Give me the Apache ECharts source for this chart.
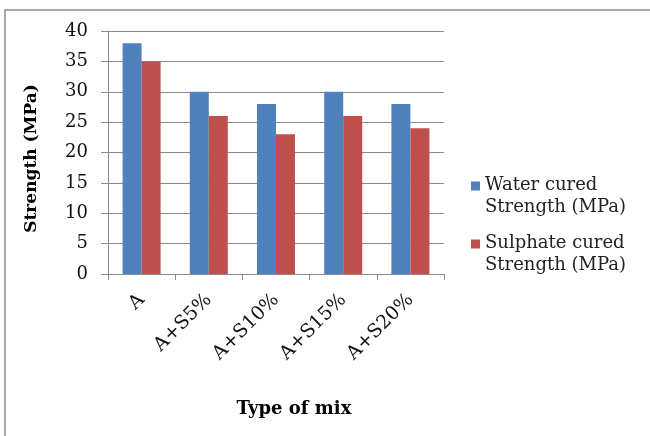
<!DOCTYPE html>
<html>
<head>
<meta charset="utf-8">
<script src="https://cdn.jsdelivr.net/npm/echarts@6/dist/echarts.min.js"></script>
<style>
  html, body { margin: 0; padding: 0; background: #fff; }
  #chart { width: 650px; height: 436px; }
</style>
</head>
<body>
<div id="chart"></div>
<script>
// Compressive strength by mix type
const mixTypes = ['A', 'A+S5%', 'A+S10%', 'A+S15%', 'A+S20%'];
const waterCured = [38, 30, 28, 30, 28];
const sulphateCured = [35, 26, 23, 26, 24];
const seriesNames = ['Water cured\nStrength (MPa)', 'Sulphate cured\nStrength (MPa)'];
const yTicks = { min: 0, max: 40, step: 5 };

const serif = '"DejaVu Serif", "Liberation Serif", serif';
const gridGray = '#8a8a8a';

const chart = echarts.init(document.getElementById('chart'), null, { renderer: 'canvas' });

// square at the top, tiny dot at the bottom so the icon lines up with the first text line
const legendIcon = 'path://M0,0h10v10h-10zM4.99,31.99h0.01v0.01h-0.01z';

chart.setOption({
  animation: false,
  backgroundColor: '#fff',
  color: ['#4F81BD', '#C0504D'],
  graphic: [{
    type: 'rect',
    shape: { x: 5, y: 10, width: 700, height: 500 },
    style: { fill: 'none', stroke: '#8c8c8c', lineWidth: 1.5 },
    silent: true,
    z: -1
  }],
  grid: { left: 108, right: 206, top: 31, bottom: 162 },
  legend: {
    orient: 'vertical',
    left: 466,
    top: 169,
    itemWidth: 9,
    itemHeight: 29,
    itemGap: 14,
    itemStyle: { borderWidth: 0 },
    icon: legendIcon,
    textStyle: { fontFamily: serif, fontSize: 18, color: '#222', lineHeight: 22 },
    itemTextGap: 9,
    data: seriesNames
  },
  xAxis: {
    type: 'category',
    data: mixTypes,
    name: 'Type of mix',
    nameLocation: 'middle',
    nameGap: 126,
    nameTextStyle: { fontFamily: serif, fontSize: 18, fontWeight: 'bold', color: '#000', padding: [0, 0, 0, 36] },
    axisLine: { lineStyle: { color: gridGray, width: 1 } },
    axisTick: { show: true, length: 6, lineStyle: { color: gridGray } },
    axisLabel: { rotate: 45, margin: 23, fontFamily: serif, fontSize: 19, color: '#111' }
  },
  yAxis: {
    type: 'value',
    min: yTicks.min,
    max: yTicks.max,
    interval: yTicks.step,
    name: 'Strength (MPa)',
    nameLocation: 'middle',
    nameGap: 68,
    nameRotate: 90,
    nameTextStyle: { fontFamily: serif, fontSize: 17, fontWeight: 'bold', color: '#000', padding: [0, 12, 0, 0] },
    axisLine: { show: true, lineStyle: { color: gridGray, width: 1 } },
    axisTick: { show: true, length: 7, lineStyle: { color: gridGray } },
    axisLabel: { margin: 20, fontFamily: serif, fontSize: 18, color: '#111' },
    splitLine: { lineStyle: { color: gridGray, width: 1.2 } }
  },
  series: [
    { name: seriesNames[0], type: 'bar', data: waterCured, barWidth: 19, barGap: '0%' },
    { name: seriesNames[1], type: 'bar', data: sulphateCured, barWidth: 19, barGap: '0%' }
  ]
});
</script>
</body>
</html>
